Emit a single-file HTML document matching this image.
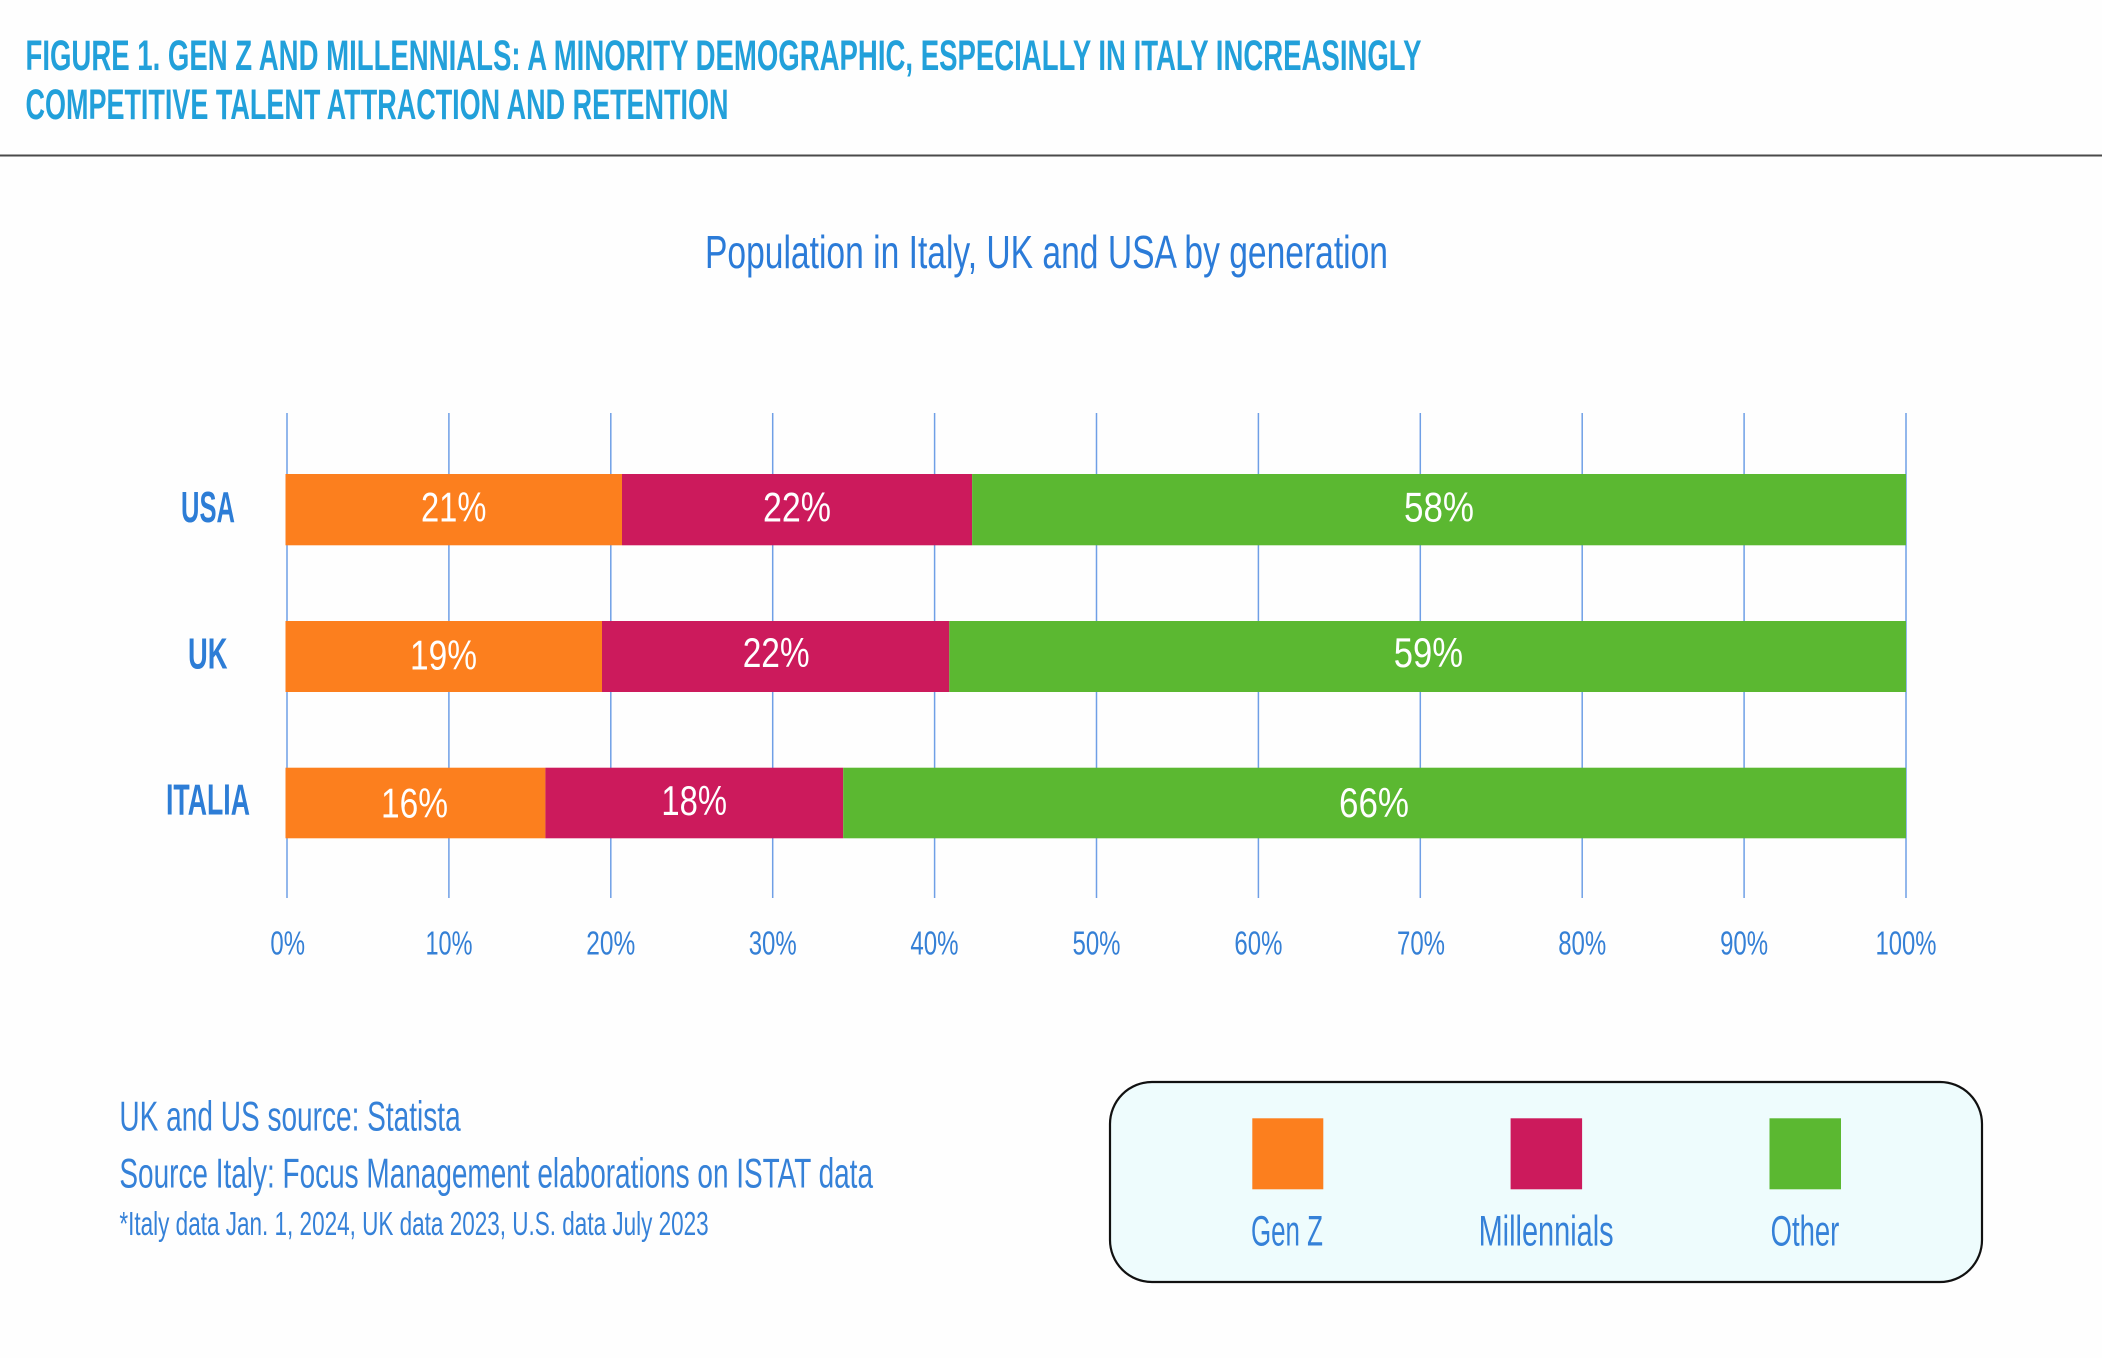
<!DOCTYPE html>
<html>
<head>
<meta charset="utf-8">
<style>
html,body{margin:0;padding:0;background:#fefefe;}
svg{display:block;}
text{font-family:"Liberation Sans Narrow","Liberation Sans",sans-serif;}
</style>
</head>
<body>
<svg width="2102" height="1358" viewBox="0 0 2102 1358" xmlns="http://www.w3.org/2000/svg">
<rect x="0" y="0" width="2102" height="1358" fill="#fefefe"/>

<!-- Header -->
<text x="25.5" y="70" font-size="43" font-weight="bold" fill="#22a0da" textLength="1396" lengthAdjust="spacingAndGlyphs">FIGURE 1. GEN Z AND MILLENNIALS: A MINORITY DEMOGRAPHIC, ESPECIALLY IN ITALY INCREASINGLY</text>
<text x="25.5" y="119" font-size="43" font-weight="bold" fill="#22a0da" textLength="703" lengthAdjust="spacingAndGlyphs">COMPETITIVE TALENT ATTRACTION AND RETENTION</text>
<rect x="0" y="154.5" width="2102" height="2" fill="#4a4a4a"/>

<!-- Chart title -->
<text x="705" y="268" font-size="46" fill="#2b7bd8" textLength="683" lengthAdjust="spacingAndGlyphs">Population in Italy, UK and USA by generation</text>

<!-- Gridlines -->
<g stroke="#6f9fe6" stroke-width="1.5">
<line x1="287" y1="413" x2="287" y2="898"/>
<line x1="448.9" y1="413" x2="448.9" y2="898"/>
<line x1="610.8" y1="413" x2="610.8" y2="898"/>
<line x1="772.7" y1="413" x2="772.7" y2="898"/>
<line x1="934.6" y1="413" x2="934.6" y2="898"/>
<line x1="1096.5" y1="413" x2="1096.5" y2="898"/>
<line x1="1258.4" y1="413" x2="1258.4" y2="898"/>
<line x1="1420.3" y1="413" x2="1420.3" y2="898"/>
<line x1="1582.2" y1="413" x2="1582.2" y2="898"/>
<line x1="1744.1" y1="413" x2="1744.1" y2="898"/>
<line x1="1906" y1="413" x2="1906" y2="898"/>
</g>

<!-- Bars -->
<rect x="285.5" y="474" width="336.5" height="71.3" fill="#fc7f1e"/>
<rect x="622" y="474" width="350.1" height="71.3" fill="#cc1a5c"/>
<rect x="972.1" y="474" width="933.9" height="71.3" fill="#5bb831"/>

<rect x="285.5" y="621" width="316.5" height="71" fill="#fc7f1e"/>
<rect x="602" y="621" width="347.3" height="71" fill="#cc1a5c"/>
<rect x="949.3" y="621" width="956.7" height="71" fill="#5bb831"/>

<rect x="285.5" y="767.7" width="259.9" height="70.6" fill="#fc7f1e"/>
<rect x="545.4" y="767.7" width="297.8" height="70.6" fill="#cc1a5c"/>
<rect x="843.2" y="767.7" width="1062.8" height="70.6" fill="#5bb831"/>

<!-- Category labels -->
<g fill="#2d7dd6" font-size="44" font-weight="bold">
<text x="181" y="522" textLength="54" lengthAdjust="spacingAndGlyphs">USA</text>
<text x="188" y="668.5" textLength="39.5" lengthAdjust="spacingAndGlyphs">UK</text>
<text x="166" y="814.5" textLength="84" lengthAdjust="spacingAndGlyphs">ITALIA</text>
</g>

<!-- Value labels -->
<g fill="#ffffff" font-size="42">
<text x="421" y="521.7" textLength="65.4" lengthAdjust="spacingAndGlyphs">21%</text>
<text x="763" y="521.7" textLength="68" lengthAdjust="spacingAndGlyphs">22%</text>
<text x="1404" y="521.4" textLength="70" lengthAdjust="spacingAndGlyphs">58%</text>

<text x="410" y="669.3" textLength="67" lengthAdjust="spacingAndGlyphs">19%</text>
<text x="742.7" y="667" textLength="67" lengthAdjust="spacingAndGlyphs">22%</text>
<text x="1393.7" y="667" textLength="69.3" lengthAdjust="spacingAndGlyphs">59%</text>

<text x="381" y="817.7" textLength="67" lengthAdjust="spacingAndGlyphs">16%</text>
<text x="661.4" y="815" textLength="65.6" lengthAdjust="spacingAndGlyphs">18%</text>
<text x="1339" y="817" textLength="70" lengthAdjust="spacingAndGlyphs">66%</text>
</g>

<!-- Tick labels -->
<g fill="#3580d6" font-size="33">
<text x="270.4" y="954.5" textLength="34.6" lengthAdjust="spacingAndGlyphs">0%</text>
<text x="425.5" y="954.5" textLength="47" lengthAdjust="spacingAndGlyphs">10%</text>
<text x="586.3" y="954.5" textLength="49" lengthAdjust="spacingAndGlyphs">20%</text>
<text x="748.7" y="954.5" textLength="48" lengthAdjust="spacingAndGlyphs">30%</text>
<text x="910.4" y="954.5" textLength="48.2" lengthAdjust="spacingAndGlyphs">40%</text>
<text x="1072.5" y="954.5" textLength="48" lengthAdjust="spacingAndGlyphs">50%</text>
<text x="1234.4" y="954.5" textLength="48" lengthAdjust="spacingAndGlyphs">60%</text>
<text x="1397" y="954.5" textLength="48" lengthAdjust="spacingAndGlyphs">70%</text>
<text x="1558.2" y="954.5" textLength="48" lengthAdjust="spacingAndGlyphs">80%</text>
<text x="1720.1" y="954.5" textLength="48" lengthAdjust="spacingAndGlyphs">90%</text>
<text x="1875.5" y="954.5" textLength="61" lengthAdjust="spacingAndGlyphs">100%</text>
</g>

<!-- Footnotes -->
<g fill="#3581d8">
<text x="119.4" y="1130.7" font-size="42" textLength="341.3" lengthAdjust="spacingAndGlyphs">UK and US source: Statista</text>
<text x="119.4" y="1187.7" font-size="42" textLength="753.6" lengthAdjust="spacingAndGlyphs">Source Italy: Focus Management elaborations on ISTAT data</text>
<text x="119.4" y="1235" font-size="33.5" textLength="589.3" lengthAdjust="spacingAndGlyphs">*Italy data Jan. 1, 2024, UK data 2023, U.S. data July 2023</text>
</g>

<!-- Legend -->
<rect x="1110" y="1082" width="872" height="200" rx="42" ry="42" fill="#eefcfd" stroke="#111111" stroke-width="2.2"/>
<rect x="1252.3" y="1118.3" width="71" height="71" fill="#fc7f1e"/>
<rect x="1510.6" y="1118.3" width="71.5" height="71" fill="#cc1a5c"/>
<rect x="1769.5" y="1118.3" width="71.5" height="71" fill="#5bb831"/>
<g fill="#3581d8" font-size="43">
<text x="1251" y="1245.7" textLength="72" lengthAdjust="spacingAndGlyphs">Gen Z</text>
<text x="1478.6" y="1245.7" textLength="135" lengthAdjust="spacingAndGlyphs">Millennials</text>
<text x="1770.6" y="1245.7" textLength="68.7" lengthAdjust="spacingAndGlyphs">Other</text>
</g>
</svg>
</body>
</html>
